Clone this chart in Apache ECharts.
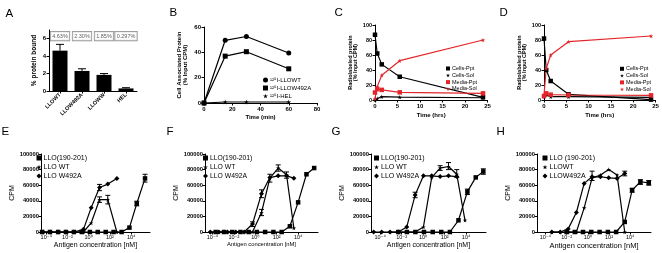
<!DOCTYPE html>
<html><head><meta charset="utf-8">
<script src="https://cdn.jsdelivr.net/npm/echarts@6/dist/echarts.min.js"></script>
<style>html,body{margin:0;padding:0;background:#fff}#c{width:662px;height:253px}</style>
</head><body><div id="c"></div><script>
// ---------- Panel A ----------
const catsA = ['LLOWT', 'LLOW492A', 'LLOWW', 'HEL'];
const boundA = [4.63, 2.30, 1.85, 0.297];
const boundHiA = [5.35, 2.55, 2.0, 0.38];
const boxTextA = ['4.63%', '2.30%', '1.85%', '0.297%'];
const yTicksA = [0, 2, 4, 6];
// ---------- Panel B ----------
const timeB = [0, 15, 30, 60];
const wtB = [0, 49.5, 52.5, 39.5];
const w492aB = [0, 37, 40.5, 27];
const helB = [0, 0.8, 0.8, 0.8];
const xTicksB = [0, 20, 40, 60, 80];
const yTicksB = [0, 20, 40, 60];
// ---------- Panels C, D ----------
const timeCD = [0, 0.5, 1.5, 5.5, 24];
const cellsPptC = [87, 62, 47.5, 31, 3.6];
const cellsSolC = [0, 2, 4.4, 3.8, 3];
const mediaPptC = [10, 14.5, 13.5, 10.2, 8.9];
const mediaSolC = [2, 17.8, 33, 52.4, 80];
const cellsPptD = [82, 40, 25.3, 7.6, 0.5];
const cellsSolD = [4.4, 6.7, 4.4, 4.4, 3.6];
const mediaPptD = [5.3, 8.9, 7.1, 6.7, 6.2];
const mediaSolD = [6.7, 42, 60, 77.8, 85.3];
const xTicksCD = [0, 5, 10, 15, 20, 25];
const yTicksCD = [0, 20, 40, 60, 80, 100];
// ---------- Panels E-H (concentration in nM, CPM) ----------
const concE_pep = [4.0e-5, 2.2e-4, 1.3e-3, 7.1e-3, 0.04, 0.22, 1.3, 7.1, 40, 220, 1260, 6900, 34000, 204000];
const pepE = [0, 0, 0, 0, 0, 0, 0, 0, 0, 0, 0, 5600, 36500, 68700];
const concE_prot = [5.0e-5, 2.5e-4, 1.3e-3, 7.1e-3, 0.04, 0.32, 1.7, 10.5, 63, 450];
const wtE = [0, 0, 0, 0, 0, 0, 11600, 41600, 41600, 0];
const w492aE = [0, 0, 0, 0, 0, 3400, 31000, 57000, 61400, 68700];
const errE = [[10.5, 38000, 45000], [63, 36000, 47000], [10.5, 53000, 61000], [204000, 64000, 74000], [34000, 33500, 39500]];

const concF_pep = [2.0e-4, 1.2e-3, 6.9e-3, 0.041, 0.24, 1.4, 8.3, 49, 290, 1700, 10000, 60000, 316000];
const pepF = [0, 0, 0, 0, 0, 0, 0, 0, 0, 7300, 38000, 74000, 82000];
const concF_prot = [6.3e-5, 4.0e-4, 2.5e-3, 0.015, 0.091, 0.55, 3.8, 23, 138, 830, 4000];
const wtF = [0, 0, 0, 0, 0, 0, 25000, 69000, 82000, 73300, 5000];
const w492aF = [0, 0, 0, 0, 0, 10300, 49100, 69800, 72000, 72000, 69000];
const errF = [[138, 78000, 86000], [3.8, 44000, 54000], [3.8, 21000, 29000], [23, 64000, 74000], [830, 69000, 77000], [0.55, 7000, 13000]];

const concG_pep = [4.9e-3, 0.031, 0.19, 1.2, 7.8, 49, 310, 1950, 13200, 79400, 398000];
const pepG = [0, 0, 0, 0, 0, 0, 0, 15000, 51700, 70000, 77600];
const concG_wt = [8.3e-4, 5.0e-3, 0.030, 0.18, 1.07, 6.3, 38, 229, 1350, 7900];
const wtG = [0, 0, 0, 0, 6500, 70000, 82000, 84000, 74000, 15000];
const concG_w492a = [2.5e-5, 1.4e-4, 8.3e-4, 5.0e-3, 0.030, 0.18, 1.07, 6.3, 38, 229, 1350];
const w492aG = [0, 0, 0, 0, 6500, 47400, 72000, 72000, 71000, 72000, 71000];
const errG = [[229, 80000, 89000], [38, 79000, 85000], [0.18, 44000, 51000], [13200, 48000, 55000], [398000, 74000, 81000], [1350, 70000, 80000]];

const concH_pep = [0.01, 0.059, 0.35, 2.1, 12.9, 78, 468, 3020, 15100, 91200, 562000];
const pepH = [0, 0, 0, 0, 0, 0, 0, 12900, 53700, 64400, 63100];
const concH_prot = [4.0e-4, 2.5e-3, 0.014, 0.083, 0.45, 2.5, 15.5, 93, 575, 3020];
const wtH = [0, 0, 0, 0, 31000, 69000, 73000, 80000, 73000, 0];
const w492aH = [0, 0, 4000, 25000, 62300, 70800, 70800, 69500, 68700, 75000];
const errH = [[2.5, 66000, 78000], [3020, 72000, 78000], [91200, 61000, 67000], [562000, 60000, 66000], [15100, 51000, 56000]];

const logTicks = [1e-4, 1e-2, 1, 1e2, 1e4];
const yTicksCPM = [0, 20000, 40000, 60000, 80000, 100000];

// ---------- styling ----------
const FONT = '"Liberation Sans", Arial, "DejaVu Sans", sans-serif';
const BLACK = '#000', RED = '#e3262b';
const STAR = 'path://M50,0 L61,35 98,35 68,57 79,91 50,70 21,91 32,57 2,35 39,35 Z';
const SUP = {'-': '⁻', '0': '⁰', '1': '¹', '2': '²', '3': '³', '4': '⁴', '5': '⁵', '6': '⁶', '7': '⁷', '8': '⁸', '9': '⁹'};
const supStr = s => String(s).split('').map(c => SUP[c]).join('');

const grids = [
  {left: 49, top: 30, width: 88, height: 61},
  {left: 204, top: 27, width: 113, height: 76},
  {left: 375, top: 25, width: 112.5, height: 75},
  {left: 544, top: 25, width: 111.5, height: 75},
  {left: 41, top: 154, width: 109, height: 78},
  {left: 205, top: 154, width: 113, height: 78},
  {left: 371, top: 154, width: 115, height: 78},
  {left: 537, top: 154, width: 114, height: 78}
];

const axLine = {show: true, lineStyle: {color: BLACK, width: 1}};
const axTick = vals => ({show: true, length: 2.5, customValues: vals, lineStyle: {color: BLACK, width: 1}});
const lblTop = (vals, extra) => Object.assign({customValues: vals, fontSize: 6, fontWeight: 'bold', color: BLACK, fontFamily: FONT, margin: 3}, extra || {});
const nameStyleTop = {fontSize: 6, fontWeight: 'bold', color: BLACK, fontFamily: FONT, lineHeight: 6.5};

function valAxis(gi, min, max, ticks, extra) {
  return Object.assign({type: 'value', gridIndex: gi, min, max, axisLine: axLine, axisTick: axTick(ticks),
    axisLabel: lblTop(ticks), splitLine: {show: false}}, extra || {});
}

const xAxes = [
  {type: 'category', gridIndex: 0, data: catsA, axisLine: axLine,
   axisTick: {show: true, alignWithLabel: true, length: 2.5, lineStyle: {color: BLACK}},
   axisLabel: {rotate: 45, fontSize: 5.5, fontWeight: 'bold', color: BLACK, fontFamily: FONT, margin: 3, interval: 0}},
  valAxis(1, 0, 80, xTicksB, {name: 'Time (min)', nameLocation: 'middle', nameGap: 11, nameTextStyle: nameStyleTop}),
  valAxis(2, 0, 25, xTicksCD, {name: 'Time (hrs)', nameLocation: 'middle', nameGap: 12, nameTextStyle: nameStyleTop}),
  valAxis(3, 0, 25, xTicksCD, {name: 'Time (hrs)', nameLocation: 'middle', nameGap: 12, nameTextStyle: nameStyleTop})
];
const yAxes = [
  valAxis(0, 0, 7, yTicksA, {name: '% protein bound', nameLocation: 'middle', nameGap: 12, nameTextStyle: Object.assign({}, nameStyleTop, {fontSize: 6.5})}),
  valAxis(1, 0, 60, yTicksB, {name: 'Cell Associated Protein\n(% Input CPM)', nameLocation: 'middle', nameGap: 15, nameTextStyle: nameStyleTop}),
  valAxis(2, 0, 100, yTicksCD, {name: 'Radiolabeled protein\n(% Input CPM)', nameLocation: 'middle', nameGap: 5, nameTextStyle: Object.assign({}, nameStyleTop, {fontSize: 5.5, lineHeight: 5.5})}),
  valAxis(3, 0, 100, yTicksCD, {name: 'Radiolabeled protein\n(% Input CPM)', nameLocation: 'middle', nameGap: 7, nameTextStyle: Object.assign({}, nameStyleTop, {fontSize: 5.5, lineHeight: 5.5})})
];
yAxes[2].axisLabel.fontSize = 5.5;
yAxes[3].axisLabel.fontSize = 5.5;

const bottomCfg = [
  {gi: 4, min: 3.16e-5, max: 6.0e5, xNameSize: 7, xGap: 8, yGap: 12.5},
  {gi: 5, min: 2.0e-5, max: 7.2e5, xNameSize: 5.8, xGap: 9, yGap: 11},
  {gi: 6, min: 1.41e-5, max: 7.1e5, xNameSize: 7, xGap: 9.5, yGap: 9.5},
  {gi: 7, min: 1.6e-5, max: 9.1e5, xNameSize: 7.5, xGap: 9.5, yGap: 11}
];
bottomCfg.forEach(c => {
  xAxes.push({type: 'log', logBase: 10, gridIndex: c.gi, min: c.min, max: c.max, axisLine: axLine,
    axisTick: axTick(logTicks), splitLine: {show: false}, minorTick: {show: false},
    axisLabel: {customValues: logTicks, fontSize: 5.5, color: BLACK, fontFamily: FONT, margin: 2.5,
      formatter: v => '10' + supStr(Math.round(Math.log10(v)))},
    name: 'Antigen concentration [nM]', nameLocation: 'middle', nameGap: c.xGap,
    nameTextStyle: {fontSize: c.xNameSize, color: BLACK, fontFamily: FONT}});
  yAxes.push({type: 'value', gridIndex: c.gi, min: 0, max: 100000, axisLine: axLine, axisTick: axTick(yTicksCPM),
    splitLine: {show: false},
    axisLabel: {customValues: yTicksCPM, fontSize: 5.8, fontWeight: 'bold', color: BLACK, fontFamily: FONT, margin: 2, formatter: v => String(v)},
    name: 'CPM', nameLocation: 'middle', nameGap: c.yGap, nameTextStyle: {fontSize: 7, color: BLACK, fontFamily: FONT}});
});

function line(name, gi, xs, ys, symbol, color, size) {
  return {type: 'line', name, xAxisIndex: gi, yAxisIndex: gi, data: xs.map((x, i) => [x, ys[i]]),
    symbol, symbolSize: size, showSymbol: true, lineStyle: {color, width: 1.2}, itemStyle: {color},
    z: 3, emphasis: {disabled: true}};
}
function errBars(gi, data, color, cap) {
  return {type: 'custom', xAxisIndex: gi, yAxisIndex: gi, data, z: 2, silent: true,
    renderItem(params, api) {
      const x = api.value(0), lo = api.value(1), hi = api.value(2);
      const p1 = api.coord([x, hi]), p0 = api.coord([x, lo]);
      const st = {stroke: color, lineWidth: 1};
      return {type: 'group', children: [
        {type: 'line', shape: {x1: p1[0], y1: p1[1], x2: p0[0], y2: p0[1]}, style: st},
        {type: 'line', shape: {x1: p1[0] - cap, y1: p1[1], x2: p1[0] + cap, y2: p1[1]}, style: st},
        {type: 'line', shape: {x1: p0[0] - cap, y1: p0[1], x2: p0[0] + cap, y2: p0[1]}, style: st}
      ]};
    }};
}

const boxLevelA = 6.3;
const series = [
  {type: 'bar', xAxisIndex: 0, yAxisIndex: 0, data: boundA, barWidth: 15, itemStyle: {color: BLACK}, z: 3},
  {type: 'custom', xAxisIndex: 0, yAxisIndex: 0, data: boundA.map((v, i) => [i, v, boundHiA[i]]), z: 2,
    renderItem(params, api) {
      const p1 = api.coord([api.value(0), api.value(2)]), p0 = api.coord([api.value(0), api.value(1)]);
      const st = {stroke: BLACK, lineWidth: 1};
      return {type: 'group', children: [
        {type: 'line', shape: {x1: p1[0], y1: p1[1], x2: p0[0], y2: p0[1]}, style: st},
        {type: 'line', shape: {x1: p1[0] - 4, y1: p1[1], x2: p1[0] + 4, y2: p1[1]}, style: st}]};
    }},
  {type: 'scatter', xAxisIndex: 0, yAxisIndex: 0, symbolSize: 0, data: catsA.map((c, i) => [i, boxLevelA]), z: 5,
    label: {show: true, position: 'inside', formatter: p => boxTextA[p.dataIndex], fontSize: 5.5, color: '#333',
      fontFamily: FONT, borderColor: '#777', borderWidth: 0.8, padding: [1.5, 1.5, 1, 1.5], backgroundColor: '#fff'}},
  line('¹²⁵I-LLOWT', 1, timeB, wtB, 'circle', BLACK, 5),
  line('¹²⁵I-LLOW492A', 1, timeB, w492aB, 'rect', BLACK, 5),
  line('¹²⁵I-HEL', 1, timeB, helB, STAR, BLACK, 5),
  line('Cells-Ppt', 2, timeCD, cellsPptC, 'rect', BLACK, 4.5),
  line('Cells-Sol', 2, timeCD, cellsSolC, STAR, BLACK, 4.5),
  line('Media-Ppt', 2, timeCD, mediaPptC, 'rect', RED, 4.5),
  line('Media-Sol', 2, timeCD, mediaSolC, STAR, RED, 4.5),
  line('Cells-Ppt', 3, timeCD, cellsPptD, 'rect', BLACK, 4.5),
  line('Cells-Sol', 3, timeCD, cellsSolD, STAR, BLACK, 4.5),
  line('Media-Ppt', 3, timeCD, mediaPptD, 'rect', RED, 4.5),
  line('Media-Sol', 3, timeCD, mediaSolD, STAR, RED, 4.5),
  line('LLO(190-201)', 4, concE_pep, pepE, 'rect', BLACK, 4.5),
  line('LLO WT', 4, concE_prot, wtE, STAR, BLACK, 4.5),
  line('LLO W492A', 4, concE_prot, w492aE, 'diamond', BLACK, 5),
  errBars(4, errE, BLACK, 2.5),
  line('LLO(190-201)', 5, concF_pep, pepF, 'rect', BLACK, 4.5),
  line('LLO WT', 5, concF_prot, wtF, STAR, BLACK, 4.5),
  line('LLO W492A', 5, concF_prot, w492aF, 'diamond', BLACK, 5),
  errBars(5, errF, BLACK, 2.5),
  line('LLO(190-201)', 6, concG_pep, pepG, 'rect', BLACK, 4.5),
  line('LLO WT', 6, concG_wt, wtG, STAR, BLACK, 4.5),
  line('LLO W492A', 6, concG_w492a, w492aG, 'diamond', BLACK, 5),
  errBars(6, errG, BLACK, 2.5),
  line('LLO (190-201)', 7, concH_pep, pepH, 'rect', BLACK, 4.5),
  line('LLOWT', 7, concH_prot, wtH, STAR, BLACK, 4.5),
  line('LLOW492A', 7, concH_prot, w492aH, 'diamond', BLACK, 5),
  errBars(7, errH, BLACK, 2.5)
];

function legend(left, top, items, fontSize, lineHeight, gap, iconSize) {
  return {orient: 'vertical', left, top, padding: 0, itemGap: gap, itemWidth: iconSize, itemHeight: iconSize,
    selectedMode: false, data: items.map(([name, icon]) => ({name, icon})),
    textStyle: {fontSize, lineHeight, color: BLACK, fontFamily: FONT, padding: [0, 0, 0, -3]}};
}
const legends = [
  legend(263, 77, [['¹²⁵I-LLOWT', 'circle'], ['¹²⁵I-LLOW492A', 'rect'], ['¹²⁵I-HEL', STAR]], 6, 6, 2, 5),
  legend(446, 65.5, [['Cells-Ppt', 'rect'], ['Cells-Sol', STAR], ['Media-Ppt', 'rect'], ['Media-Sol', STAR]], 5.5, 5, 0.8, 4),
  legend(620, 65.8, [['Cells-Ppt', 'rect'], ['Cells-Sol', STAR], ['Media-Ppt', 'rect'], ['Media-Sol', STAR]], 5.5, 5, 0.8, 4),
  legend(36.5, 154.5, [['LLO(190-201)', 'rect'], ['LLO WT', STAR], ['LLO W492A', 'diamond']], 7, 7, 2, 5),
  legend(203, 154.5, [['LLO(190-201)', 'rect'], ['LLO WT', STAR], ['LLO W492A', 'diamond']], 6.8, 7, 2, 5),
  legend(374, 154.5, [['LLO(190-201)', 'rect'], ['LLO WT', STAR], ['LLO W492A', 'diamond']], 7, 7, 2, 5),
  legend(542.5, 154.5, [['LLO (190-201)', 'rect'], ['LLOWT', STAR], ['LLOW492A', 'diamond']], 7, 7, 2, 5)
];

const letters = [['A', 5.5, 7.5], ['B', 169.5, 7], ['C', 334.5, 7], ['D', 499.5, 7], ['E', 1.5, 126], ['F', 166.5, 126], ['G', 331.5, 126], ['H', 496.5, 126]];
const titles = letters.map(([t, l, tp]) => ({text: t, left: l, top: tp, padding: 0,
  textStyle: {fontSize: 11.5, fontWeight: 'normal', color: BLACK, fontFamily: FONT}}));

const chart = echarts.init(document.getElementById('c'), null, {renderer: 'canvas'});
chart.setOption({
  animation: false, backgroundColor: '#fff', textStyle: {fontFamily: FONT},
  title: titles, grid: grids, xAxis: xAxes, yAxis: yAxes, legend: legends, series
});
</script></body></html>
